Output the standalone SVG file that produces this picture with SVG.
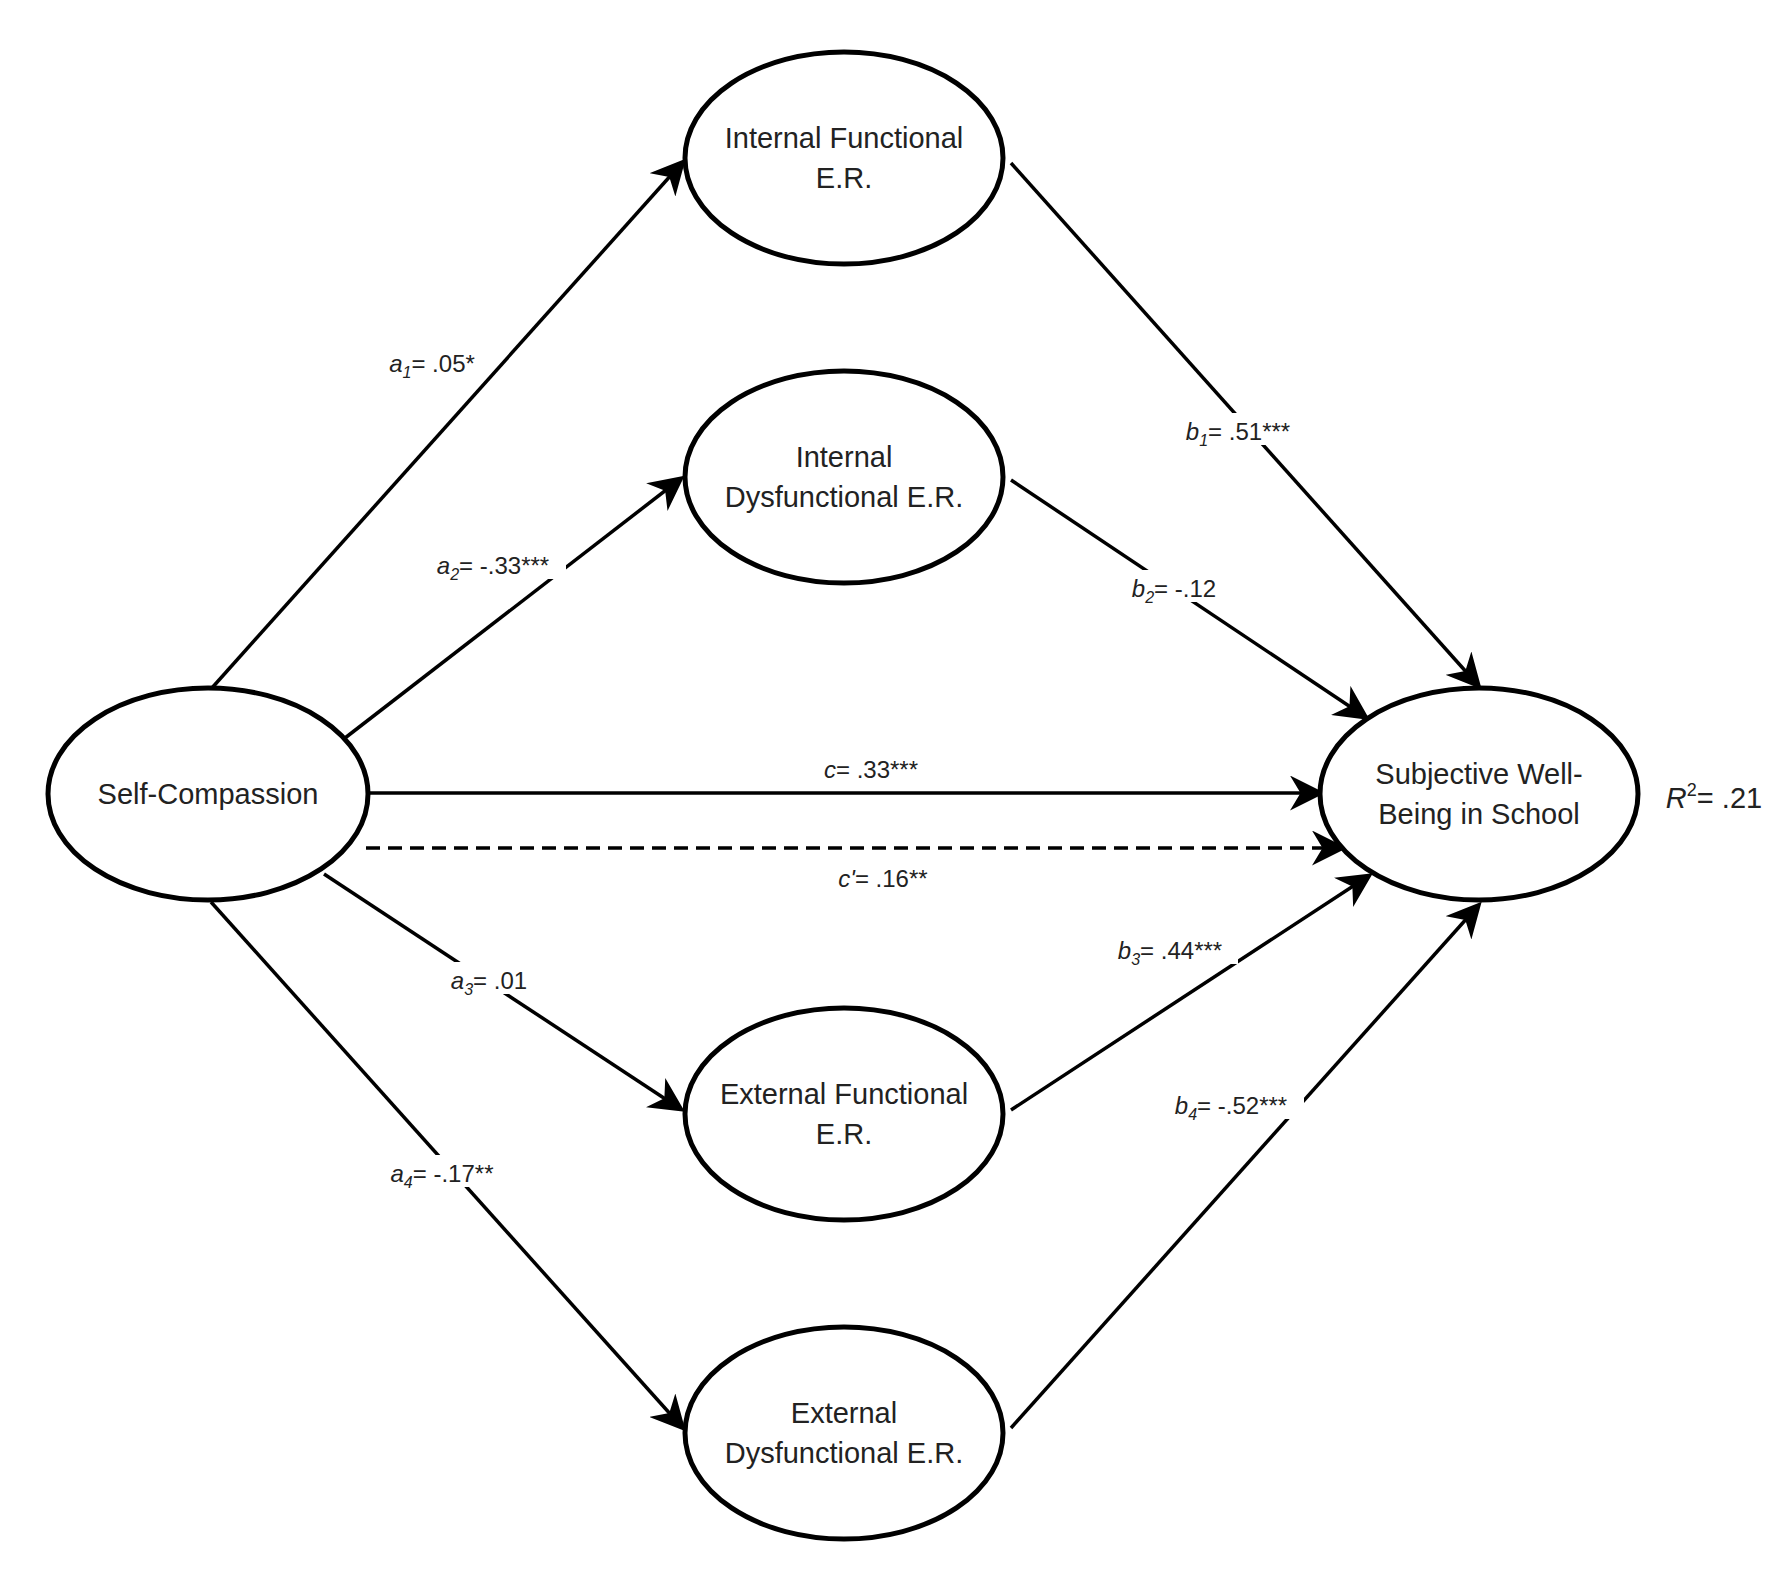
<svg xmlns="http://www.w3.org/2000/svg" width="1775" height="1588" viewBox="0 0 1775 1588">
<style>
.n{fill:#fff;stroke:#000;stroke-width:5}
.t{font-family:"Liberation Sans",Arial,sans-serif;font-size:29px;fill:#222;text-anchor:middle}
.l{font-family:"Liberation Sans",Arial,sans-serif;font-size:24px;fill:#222;text-anchor:middle}
.e{stroke:#000;stroke-width:3.5;fill:none;marker-end:url(#ah)}
.bg{fill:#fff}
</style>
<defs>
<marker id="ah" markerWidth="10" markerHeight="10" refX="8" refY="5" orient="auto" markerUnits="strokeWidth" viewBox="0 0 10 10">
<path d="M0,0 L10,5 L0,10 L3,5 Z" fill="#000"/>
</marker>
</defs>
<rect width="1775" height="1588" fill="#fff"/>
<g id="connectors">
<line class="e" x1="211" y1="689" x2="681" y2="164"/>
<line class="e" x1="345" y1="738" x2="679" y2="480"/>
<line class="e" x1="370" y1="793" x2="1318" y2="793"/>
<line class="e" x1="366" y1="848" x2="1340" y2="848" stroke-dasharray="14,8"/>
<line class="e" x1="324" y1="874" x2="679" y2="1108"/>
<line class="e" x1="211" y1="902" x2="681" y2="1426"/>
<line class="e" x1="1011" y1="163" x2="1477" y2="684"/>
<line class="e" x1="1011" y1="480" x2="1364" y2="716"/>
<line class="e" x1="1011" y1="1110" x2="1367" y2="877"/>
<line class="e" x1="1011" y1="1428" x2="1477" y2="907"/>
<g id="labels">
<rect class="bg" x="378" y="345" width="110" height="32"/>
<text class="l" x="432" y="372"><tspan font-style="italic">a</tspan><tspan font-size="16" dy="6" font-style="italic">1</tspan><tspan dy="-6">= .05*</tspan></text>
<rect class="bg" x="1170" y="413" width="136" height="32"/>
<text class="l" x="1238" y="440"><tspan font-style="italic">b</tspan><tspan font-size="16" dy="6" font-style="italic">1</tspan><tspan dy="-6">= .51***</tspan></text>
<rect class="bg" x="420" y="547" width="146" height="32"/>
<text class="l" x="493" y="574"><tspan font-style="italic">a</tspan><tspan font-size="16" dy="6" font-style="italic">2</tspan><tspan dy="-6">= -.33***</tspan></text>
<rect class="bg" x="1118" y="570" width="112" height="32"/>
<text class="l" x="1174" y="597"><tspan font-style="italic">b</tspan><tspan font-size="16" dy="6" font-style="italic">2</tspan><tspan dy="-6">= -.12</tspan></text>
<text class="l" x="871" y="778"><tspan font-style="italic">c</tspan>= .33***</text>
<text class="l" x="883" y="887"><tspan font-style="italic">c'</tspan>= .16**</text>
<rect class="bg" x="440" y="962" width="98" height="32"/>
<text class="l" x="489" y="989"><tspan font-style="italic">a</tspan><tspan font-size="16" dy="6" font-style="italic">3</tspan><tspan dy="-6">= .01</tspan></text>
<rect class="bg" x="1102" y="932" width="136" height="32"/>
<text class="l" x="1170" y="959"><tspan font-style="italic">b</tspan><tspan font-size="16" dy="6" font-style="italic">3</tspan><tspan dy="-6">= .44***</tspan></text>
<rect class="bg" x="376" y="1155" width="132" height="32"/>
<text class="l" x="442" y="1182"><tspan font-style="italic">a</tspan><tspan font-size="16" dy="6" font-style="italic">4</tspan><tspan dy="-6">= -.17**</tspan></text>
<rect class="bg" x="1158" y="1087" width="146" height="32"/>
<text class="l" x="1231" y="1114"><tspan font-style="italic">b</tspan><tspan font-size="16" dy="6" font-style="italic">4</tspan><tspan dy="-6">= -.52***</tspan></text>
</g>
</g>
<g id="self-compassion"><ellipse class="n" cx="208" cy="794" rx="160" ry="106"/><text class="t" x="208" y="804">Self-Compassion</text></g>
<g id="internal-functional"><ellipse class="n" cx="844" cy="158" rx="159" ry="106"/><text class="t" x="844" y="148">Internal Functional</text><text class="t" x="844" y="188">E.R.</text></g>
<g id="internal-dysfunctional"><ellipse class="n" cx="844" cy="477" rx="159" ry="106"/><text class="t" x="844" y="467">Internal</text><text class="t" x="844" y="507">Dysfunctional E.R.</text></g>
<g id="external-functional"><ellipse class="n" cx="844" cy="1114" rx="159" ry="106"/><text class="t" x="844" y="1104">External Functional</text><text class="t" x="844" y="1144">E.R.</text></g>
<g id="external-dysfunctional"><ellipse class="n" cx="844" cy="1433" rx="159" ry="106"/><text class="t" x="844" y="1423">External</text><text class="t" x="844" y="1463">Dysfunctional E.R.</text></g>
<g id="swb"><ellipse class="n" cx="1479" cy="794" rx="159" ry="106"/><text class="t" x="1479" y="784">Subjective Well-</text><text class="t" x="1479" y="824">Being in School</text></g>
<text class="t" x="1714" y="808"><tspan font-style="italic">R</tspan><tspan font-size="18" dy="-12">2</tspan><tspan dy="12">= .21</tspan></text>
</svg>
